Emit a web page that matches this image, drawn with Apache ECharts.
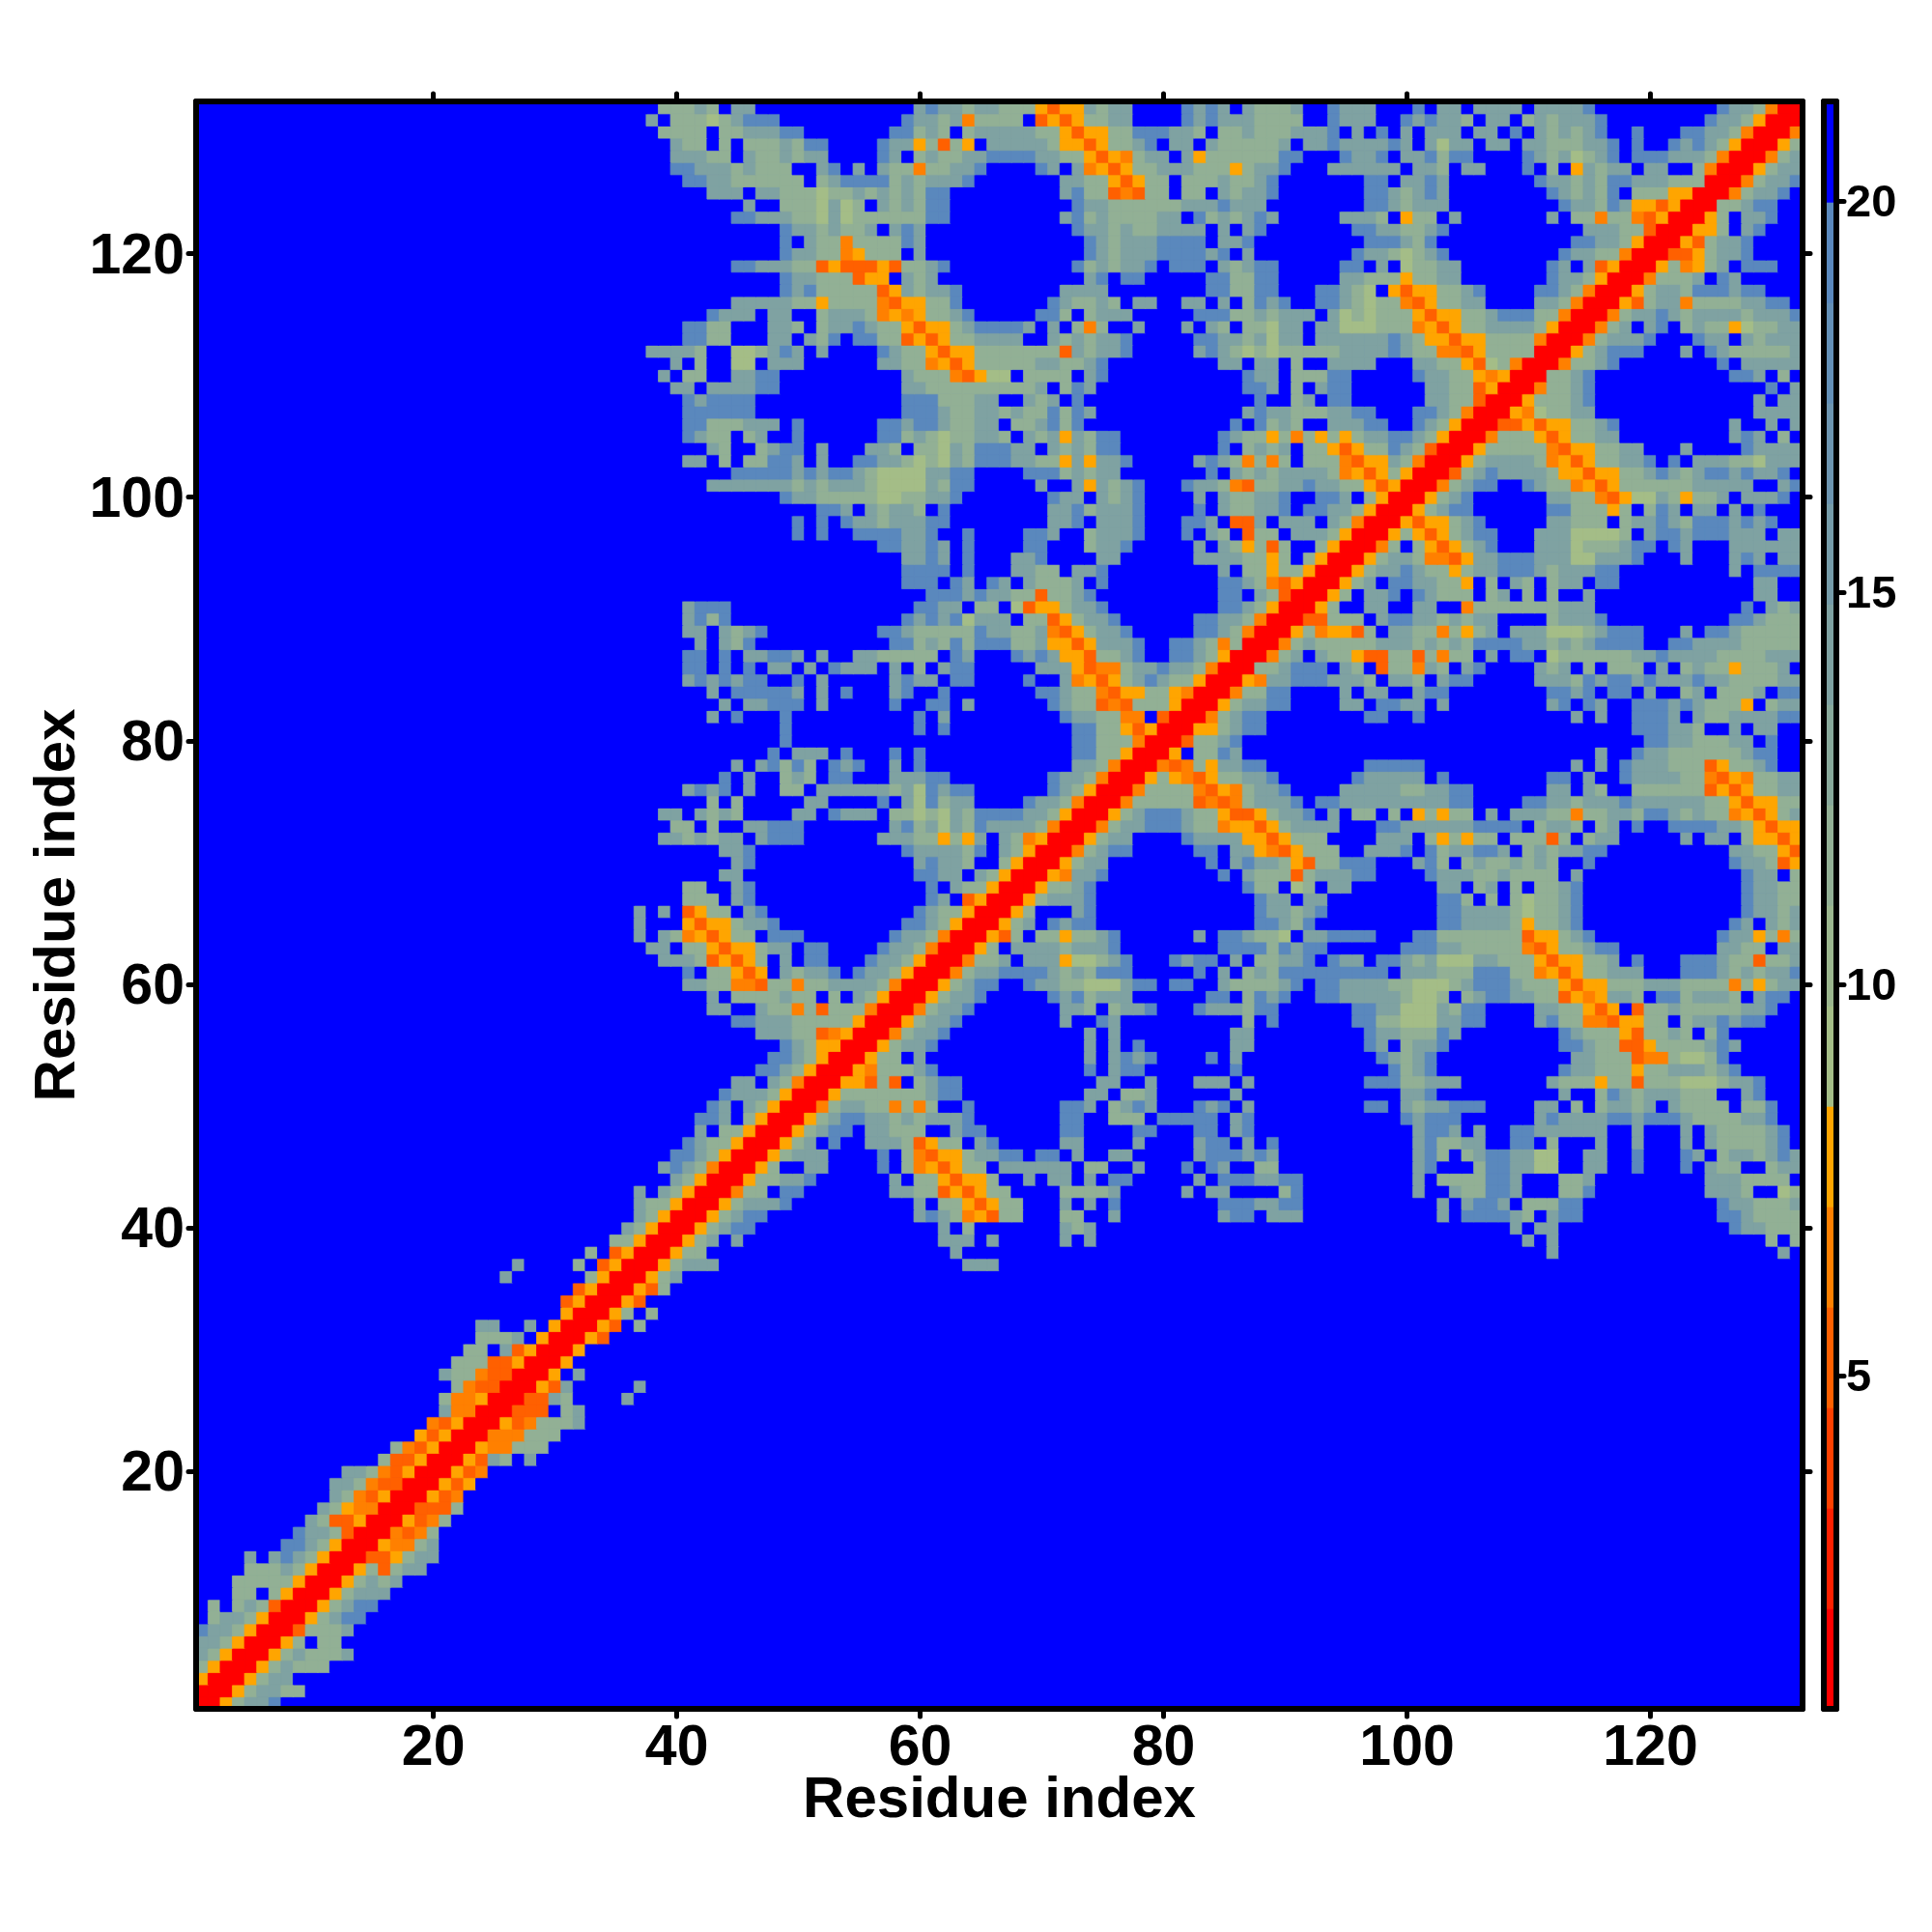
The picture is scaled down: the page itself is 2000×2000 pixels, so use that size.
<!DOCTYPE html>
<html>
<head>
<meta charset="utf-8">
<style>html,body{margin:0;padding:0;background:#fff}#c{width:2000px;height:2000px}</style>
<script src="https://cdn.jsdelivr.net/npm/echarts@6/dist/echarts.min.js"></script>
</head>
<body>
<div id="c"></div>
<script>
const residues = Array.from({length: 132}, (_, i) => String(i + 1));
const axisTickValues = [20, 40, 60, 80, 100, 120];
const colorbarTicks = [5, 10, 15, 20];
const levelEdges = [0.75,2.03,3.32,4.60,5.88,7.16,8.45,9.73,11.01,12.29,13.58,14.86,16.14,17.42,18.71,19.99,21.27];
const levelColors = ['#ff0000','#ff2000','#ff4000','#ff6000','#ff8000','#ffa500','#a4bd87','#9bb68e','#92b095','#88a99b','#7fa2a2','#769ca9','#6d95b0','#638fb6','#5a88bd','#0000ff'];
// distance for each cell class
const cellValue = {'.':20.5,R:1.4,n:5.2,o:6.5,y:7.8,g:9.1,h:11.6,s:14.5,b:19};
const diagonalValue = 1.4;
// one string per residue row, from row 131 down to row 1: "column:cells" (unlisted = beyond 20 A)
const rowCells = [
"132:R",
"131:Ro",
"130:Ryh",
"129:Rohs",
"128:Ryhss",
"127:Rohssb",
"126:Rohssb.",
"125:Rhhsbb",
"124:Ryh.ssb",
"123:Ryyh.sb",
"122:Rynhssb",
"121:Rnnyhssb",
"120:Ryhoyhs.bbb",
"119:Rohhhs.bs",
"118:Ryhsshbbbsbb",
"117:Rynhssohhhhssbb.",
"116:Rohssbshsssshsssb.",
"115:Rohs.sb.hshhyghhss",
"114:Rohsssb...bss.shsss",
"113:Ryhsbbb...s.bshhhhhs",
"112:Rohhsb 126:b.sssss",
"111:Rhhsb 127:bbs.h.",
"110:Rohhsb 130:b.s",
"109:Ryhhhsb 129:s.ss",
"108:Ryoghhss 129:ssss",
"107:Rnnynyyhhsb 127:s..s.s",
"106:Rohhhynyhhss 127:sbs.h.",
"105:Ryhhhhhonyyhhss 123:s 128:bssss",
"104:Ryhsssshoynyhhssb.b.ssshhgsss",
"103:Rnhsbsssshyynyyhhsbshsbbsbssb.",
"102:Rohsbb..bshhoynyhhhhhhsssss..sb",
"101:Ryhsb 112:sshhonyggshyhhs.sssb",
"100:Ryhsbb 112:bbhhhyh.hbs.ss.s.b",
"99:Rynyyhsb 112:sshhh.hssbshbbbsbsb",
"98:Ryhynyhsbb 111:sssggggh.sbbsbbbsss.ss",
"97:Roh.hynyhsb 111:sssghhhsbb.bs...ssssss",
"96:Ryhsshoonyssbbbsssggsssb...s...sbs.ss",
"95:Ryhssbshhyhssbbbshsssbb 127:s.bbbb",
"94:Ryhs.bbsshhy.h.sh.hss.bb 129:ss",
"93:Ryh.ssb.bshhh.hs.h.h..s 129:ss",
"92:Ryh..ss..ss..ohhhhhhhsss 128:b.shs",
"91:Rnnhhh.sbbsshshss....hsssb 127:bbshhh",
"90:Ryhoyynh.sshhohyhs.sssggghsbbb...s.bbshhhhh",
"89:Rohshhhhhssshshshbbbbsshshsbbbb..bbsssshhhhh",
"88:Rohs.shhynnhhnhohh.s.bb.ghhhhhhssbsssshhhhsss",
"87:Rhhsbbb.sh.nhhosh.sb....shs.h.hhh.s.hshhyhhhs.",
"86:Ryossbbbsssh.ssh.sbb.....ssshbsbbsbsssbsshhhhss",
"85:Rohhbb....s.ss..sbb........bbsb.bb.s..hs.hhhs.bb",
"84:Ryhssbb....ss.bbss.s........sb.bs..bbbsbshhhy.hss",
"83:Rohsbb 97:bb 101:b 114:s 116:s 119:bbbs.shhssssbb",
"82:Ryyhsbb 119:bbbssh..s.ss",
"81:Rnhhsb 120:bbsshhhss.b",
"80:Ry.hhbs 116:s 119:bsshhhhhhsbb",
"79:Ronohyssbb 97:bbbbb 114:s 116:s 118:bssshhhnyhhsb",
"78:Ryhyonyhhssb 96:bsssss 103:b 112:bb 115:s 118:bsssshhonyohhss",
"77:Rohhhhonyohssb 95:ssssshhssbb 112:ss 115:sh 119:hhhhhhnynyhhss",
"76:Rohhhhhnonohsssb.bbsssssssssbb 110:bbsshsssbsssssshhynyyhh",
"75:Ryhsbbbshhynnyhssb.s.hh.h.yhyhh.s.ssshhohhsshbbshshhoynyhs",
"74:Rohssbbbshhoyynyhssss...bbssssssbbbb.hssh.hs.b..bbbbsshynyy",
"73:Ryhss....bssssyynyhhh....sss.hyhyhh.hhhnh.hss 123:s 125:ss 128:hyyny",
"72:Rohsbb 83:bb.ssyonyhhh..sssb.bhssbbs.hshssbb 127:sshhyn",
"71:Ryhss 84:b 86:sbsshynhhbbb...sbh.hshhshsh..b 127:bsshny",
"70:Ryossb 85:b 87:shhhnhsssbb 102:bssshhshhhh.s 128:bss.h",
"69:Ryhhsb 87:bhh.gh.ss 103:ss.hs.h.hhsb 128:bsshh",
"68:Ryhsssb 88:bss.ss 103:bbh.h.hghhsb 128:bsshh",
"67:Ryh...sb 88:bsshsb 103:bbsssshghhsb 128:bsshs",
"66:Ryhs.bsbb 88:bbshb 103:bbsssshyhhsb 127:bs.shs",
"65:Rynh.hhyhhsb 83:s 85:bbshhg.ssbbbb 101:bbhhhhhhhnyyhsb 126:bssyhoh",
"64:Ryh.sssshsssb 85:bbbbhbsbb 100:bbbsshhhhhonyhhsbb 126:sshh.ss",
"63:Rohhs.sssygghsb...bsbb.s.hhssb.bss.bbshsgggsshhhynyyhhs.b 123:bbbshhnhhs",
"62:Rohssbbbbshshbbb 83:b.s.hshbbbbbbbbb.ssshhhbbbhhoynyhhsss 123:bbbshshssb",
"61:Ryhsbb..bsshhgggsbb.bb..shhhhsb.bbsssshhggghsbbbshhhynyyhhhssshhhhohyhss",
"60:Ryhssb 71:bsbhsss 84:bb.hbsb..bbssssshggh.hsbbsshhnyoyssh.bbhsssh.sbb",
"59:Rohssb 72:ssh.hssb 83:bssshbb 96:bbssgggshbb 111:sshhyny.nhhshhhhhssb",
"58:Ryhssb 72:s 75:bs 87:h 89:b 96:bbhhgggssbb 111:sbhhoonyyhh.hssbsbb",
"57:Rohssb 74:s 76:s 86:ss 97:bsshhhbs 113:bshhhynhhsh.hb",
"56:Ryhssb 74:s 76:s 78:b 86:ss 97:bs.hssb 113:bbshhnnyhhhhsbs",
"55:Ryhh.s 74:s 76:sbsb 84:b 86:s 98:bshsb 114:sshhhnoohgghb",
"54:Ryohhhsb 74:b 76:sbb 86:b 99:bhsb 113:bsshhhyhhssshsb",
"53:Ryynhn.hsbb 75:ss 79:s 83:sss 87:s 97:bbbhhsss 112:shhhyhhnhhhggghssb",
"52:Ryhhhhhhhsbb 74:ss 77:hhs 86:s 100:ssb 113:s 116:hbshssshhh 128:sb",
"51:Rohsshhohoh 64:b 72:bbs.hsbs 83:bsb.s 97:bb.shssbbb 111:ss.h.hsshs.shhhh.hhb",
"50:Ryhsbbsshshsssb 72:bb 76:hhh.bbbbb.sb 100:bsbbb 111:sbssssbbsbbbshhhhssb",
"49:Ryhsbb.sshhh..sbb 72:bb 78:bb 83:bb.sb 101:sbbs.s 109:bbssssss 119:s 123:s 125:shhhhsb",
"48:Ryhs.b..ssshnyhh.sb 72:ss 78:s 83:sbb.s.b 101:sbhhss 109:bb.h 116:s 119:s 123:s 125:shhhhsb",
"47:Ryhsss 57:b 59:honyyhssbb 70:bb.s 76:ss 83:sbbbsbs 101:sbh.hsbbssgg 115:ss 119:b 123:bs.hsshsbs",
"46:Ryh..ss 57:b 59:hoynyhh.ssssss.hh 78:s 82:b 84:bs 88:hh 101:sb 106:hbbssgg 115:ss 119:b 123:b 125:shh 130:hss",
"45:Ryhhssb 58:s 60:hhynyyh 69:s 71:ss 74:s 76:bb 83:s 85:bbbssbb 101:s 103:hhhhbbs 113:hhs 125:ssshhhh",
"44:Rohh.bb 58:sshhnynyhh 72:hhhhs 82:s 84:ss 90:hb 101:s 104:shhbbs 113:hhb 125:sssh 131:gh",
"43:Ryhsssb 60:s 62:hhynyhh 72:s 74:s 76:b 85:bbbssbb 103:s 105:sbbs 110:hhhbb 126:bsshhhs",
"42:Ryhsbb 60:sbshoynhh 72:hh 76:s 85:sbb 89:sss 103:s 105:bbbbsh.sbb 126:bbshhhh",
"41:Ryhsbb 62:s 64:h 72:shs 109:s 111:ss 127:bsshhh",
"40:Ryhs 45:s 62:sss 66:s 72:s 74:s 110:s 112:s 130:h 132:h",
"39:Ryhh 63:s 112:s 131:s",
"38:Ryhsss 64:sss",
"37:Ryhs",
"36:Rynh",
"35:Ryn",
"34:Ryh.h",
"33:Ryn.h",
"32:Ryn",
"31:Ry",
"30:Ry",
"29:Ry.s",
"28:Ryns 37:s",
"27:Rnnsh 36:s",
"26:Rnnn.hs",
"25:Rynohhhs",
"24:Rooohhh",
"23:Ryoohhh",
"22:Rynsh.s",
"21:Ryno",
"20:Ryny",
"19:Ryno",
"18:Rnnnh",
"17:Rynoh",
"16:Ronoh",
"15:Ryoohs",
"14:Rnnyhss",
"13:Ryhnhss",
"12:Ryhshs",
"11:Ryhsss",
"10:Ryhsbb",
"9:Ryhsbb",
"8:Rnhhhs",
"7:Ryh.hh",
"6:Ryhshhhs",
"5:Ryhshhh",
"4:Ryhss",
"3:Ryhsshh",
"2:Ryhssb"
];

const N = residues.length;
const matrix = residues.map(() => residues.map(() => cellValue['.']));
rowCells.forEach((txt, i) => {
  const r = 131 - i;
  txt.split(' ').forEach(seg => {
    const [c, cells] = seg.split(':');
    [...cells].forEach((ch, k) => {
      const col = +c + k;
      if (col > N) return;
      matrix[r - 1][col - 1] = cellValue[ch];
      matrix[col - 1][r - 1] = cellValue[ch];
    });
  });
});
residues.forEach((_, i) => { matrix[i][i] = diagonalValue; });
const colorOf = v => levelColors[levelEdges.findIndex((e, i) => v >= e && v < levelEdges[i + 1])];
const heat = [];
matrix.forEach((row, y) => row.forEach((v, x) => heat.push({value: [x, y, v], itemStyle: {borderColor: colorOf(v), borderWidth: 0.8}})));
const barData = levelColors.map((c, i) => ({value: [0, i, (levelEdges[i] + levelEdges[i + 1]) / 2], itemStyle: {borderColor: c, borderWidth: 0.8}}));
const barCats = levelColors.map((_, i) => String(i));

const FONT = 'Liberation Sans';
const isTick = i => axisTickValues.includes(i + 1);
const frame = {show: true, onZero: false, lineStyle: {color: '#000', width: 6, cap: 'round'}};
const tick = {show: true, alignWithLabel: true, interval: (i) => isTick(i), length: 8, lineStyle: {color: '#000', width: 5, cap: 'round'}};
const lblX = {show: true, interval: (i) => isTick(i), fontFamily: FONT, fontWeight: 'bold', fontSize: 59, color: '#000', margin: 12};
const lblY = {...lblX, verticalAlign: 'top', lineHeight: 8};
const nameStyle = {fontFamily: FONT, fontWeight: 'bold', fontSize: 60, color: '#000'};
const plainAxis = (gridIndex, position, data) => ({type: 'category', gridIndex, position, data, boundaryGap: true, z: 10,
  axisLine: frame, axisTick: {show: false}, axisLabel: {show: false}, splitLine: {show: false}});

const option = {
  backgroundColor: '#fff',
  animation: false,
  grid: [
    {left: 203, top: 105, width: 1663, height: 1664, show: true, backgroundColor: '#0000ff', borderWidth: 0},
    {left: 1888, top: 105, width: 13, height: 1664}
  ],
  visualMap: {
    type: 'piecewise', show: false, dimension: 2, seriesIndex: [0, 1],
    pieces: levelColors.map((color, i) => ({gte: levelEdges[i], lt: levelEdges[i + 1], color}))
  },
  xAxis: [
    {type: 'category', gridIndex: 0, position: 'bottom', data: residues, boundaryGap: true, z: 10,
     axisLine: frame, axisTick: tick, axisLabel: lblX, splitLine: {show: false},
     name: 'Residue index', nameLocation: 'middle', nameGap: 65, nameMoveOverlap: false, nameTextStyle: nameStyle},
    {type: 'category', gridIndex: 0, position: 'top', data: residues, boundaryGap: true, z: 10,
     axisLine: frame, axisTick: tick, axisLabel: {show: false}, splitLine: {show: false}},
    plainAxis(1, 'bottom', ['bar']),
    plainAxis(1, 'top', ['bar'])
  ],
  yAxis: [
    {type: 'category', gridIndex: 0, position: 'left', data: residues, boundaryGap: true, z: 10,
     axisLine: frame, axisTick: tick, axisLabel: lblY, splitLine: {show: false},
     name: 'Residue index', nameLocation: 'middle', nameGap: 113, nameMoveOverlap: false, nameTextStyle: nameStyle},
    {type: 'category', gridIndex: 0, position: 'right', data: residues, boundaryGap: true, z: 10,
     axisLine: frame, axisTick: tick, axisLabel: {show: false}, splitLine: {show: false}},
    plainAxis(1, 'left', barCats),
    {type: 'value', gridIndex: 1, position: 'right', min: levelEdges[0], max: levelEdges[16], z: 10,
     axisLine: frame, splitLine: {show: false},
     axisTick: {show: true, length: 8, customValues: colorbarTicks, lineStyle: {color: '#000', width: 5, cap: 'round'}},
     axisLabel: {show: true, customValues: colorbarTicks, margin: 10, verticalAlign: 'top', lineHeight: 6, fontFamily: FONT, fontWeight: 'bold', fontSize: 47, color: '#000',
                 formatter: v => String(v)}}
  ],
  series: [
    {type: 'heatmap', xAxisIndex: 0, yAxisIndex: 0, data: heat, progressive: 0, silent: true, emphasis: {disabled: true}},
    {type: 'heatmap', xAxisIndex: 2, yAxisIndex: 2, data: barData, progressive: 0, silent: true, emphasis: {disabled: true}}
  ]
};
echarts.init(document.getElementById('c'), null, {renderer: 'canvas'}).setOption(option);
</script>
</body>
</html>
